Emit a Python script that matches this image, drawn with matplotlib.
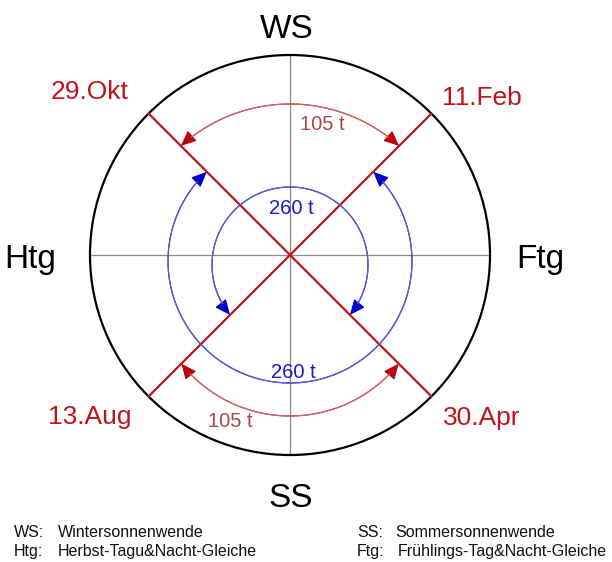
import numpy as np
import matplotlib
matplotlib.use("Agg")
import matplotlib.pyplot as plt
from matplotlib.patches import Circle, FancyArrowPatch
from matplotlib.path import Path

plt.rcParams["font.family"] = ["Liberation Sans", "DejaVu Sans"]

# season points on the wheel
seasons = ["WS", "Ftg", "SS", "Htg"]
dates = ["11.Feb", "29.Okt", "13.Aug", "30.Apr"]
date_angles = [45, 135, 225, 315]
red_days = ["105 t", "105 t"]
blue_days = ["260 t", "260 t"]
legend_keys = ["WS:", "Htg:", "SS:", "Ftg:"]
legend_names = ["Wintersonnenwende", "Herbst-Tagu&Nacht-Gleiche",
                "Sommersonnenwende", "Frühlings-Tag&Nacht-Gleiche"]

R = 200
RED = "#c0141c"
RED_ARC = "#d06a6a"
RED_HEAD = "#c00010"
RED_TXT = "#a8484a"
BLUE = "#6060d8"
BLUE_HEAD = "#0000c8"
BLUE_TXT = "#1a1ac8"


def hit_angle(center, r, ang):
    # angle (around center) where the arc meets the ray at ang (through origin)
    d = np.array([np.cos(np.radians(ang)), np.sin(np.radians(ang))])
    c = np.array(center)
    dc = d @ c
    t = dc + np.sqrt(dc ** 2 - c @ c + r ** 2)
    p = t * d - c
    return np.degrees(np.arctan2(p[1], p[0]))


def arc_arrow(ax, center, r, a0, a1, color, head, hl=0.95, hw=0.42):
    th = np.radians(np.linspace(a0, a1, 160))
    pts = np.column_stack([center[0] + r * np.cos(th), center[1] + r * np.sin(th)])
    p = FancyArrowPatch(path=Path(pts), arrowstyle=f"<|-|>,head_length={hl},head_width={hw}",
                        mutation_scale=10, color=head, lw=0.8, zorder=4)
    ax.add_patch(p)
    # lighter thin arc body between the heads
    trim = np.degrees(14 / r) * np.sign(a1 - a0)
    th2 = np.radians(np.linspace(a0 + trim, a1 - trim, 160))
    ax.plot(center[0] + r * np.cos(th2), center[1] + r * np.sin(th2), color=color, lw=0.9, zorder=5)


fig = plt.figure(figsize=(6.12, 5.62), dpi=100)
ax = fig.add_axes([0, 0, 1, 1])
ax.set_xlim(-290, 322)
ax.set_ylim(-307, 255)
ax.set_aspect("equal")
ax.axis("off")

# cross
ax.plot([-R, R], [0, 0], color="#8a8a8a", lw=0.9, zorder=1)
ax.plot([0, 0], [-R, R], color="#8a8a8a", lw=0.9, zorder=1)

ax.add_patch(Circle((0, 0), R, fill=False, ec="black", lw=1.6, zorder=3))

# red diagonals
for a in date_angles:
    ax.plot([0, R * np.cos(np.radians(a))], [0, R * np.sin(np.radians(a))],
            color=RED, lw=1.6, zorder=3)

# red arcs (105 t)
c_top, r_top = (0, -12), 163
arc_arrow(ax, c_top, r_top, hit_angle(c_top, r_top, 135), hit_angle(c_top, r_top, 45), RED_ARC, RED_HEAD)
c_bot, r_bot = (0, -22), 139
arc_arrow(ax, c_bot, r_bot, hit_angle(c_bot, r_bot, 225) % 360, hit_angle(c_bot, r_bot, 315) % 360,
          RED_ARC, RED_HEAD)

# blue arcs (260 t)
c_big, r_big = (0, -6), 122
arc_arrow(ax, c_big, r_big, hit_angle(c_big, r_big, 135), hit_angle(c_big, r_big, 45) + 360, BLUE, BLUE_HEAD)
c_sm, r_sm = (0, -10), 78
arc_arrow(ax, c_sm, r_sm, hit_angle(c_sm, r_sm, 225) % 360, hit_angle(c_sm, r_sm, 315), BLUE, BLUE_HEAD)

# season labels
season_pos = {"WS": (-3, 217), "Ftg": (250, -13), "SS": (1, -252), "Htg": (-260, -13)}
for s in seasons:
    x, y = season_pos[s]
    ax.text(x, y, s, fontsize=24, ha="center", va="baseline", color="black")

# date labels
date_pos = [(192, 150), (-200, 156), (-200, -169), (192, -170)]
for d, (x, y) in zip(dates, date_pos):
    ax.text(x, y, d, fontsize=19, ha="center", va="baseline", color=RED)

# day counts
for t, (x, y) in zip(red_days, [(32, 125), (-60, -172)]):
    ax.text(x, y, t, fontsize=14.5, ha="center", va="baseline", color=RED_TXT)
for t, (x, y) in zip(blue_days, [(1, 41), (3, -123)]):
    ax.text(x, y, t, fontsize=14.5, ha="center", va="baseline", color=BLUE_TXT)

# legend text
key_pos = [(-276, -282), (-276, -301), (67, -282), (67, -301)]
name_x = [-232, -232, 105, 108]
for k, n, (x, y), nx in zip(legend_keys, legend_names, key_pos, name_x):
    ax.text(x, y, k, fontsize=11.5, ha="left", va="baseline", color="#111111")
    ax.text(nx, y, n, fontsize=11.5, ha="left", va="baseline", color="#111111")

fig.savefig("out.png", dpi=100, facecolor="white")
